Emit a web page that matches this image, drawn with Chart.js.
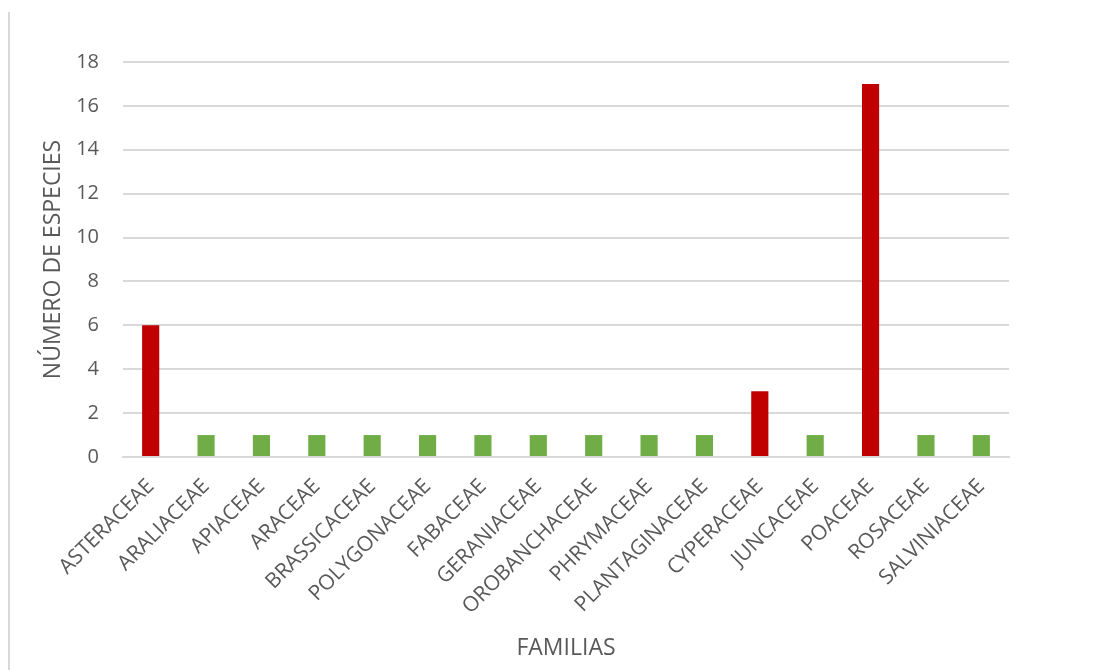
<!DOCTYPE html>
<html>
<head>
<meta charset="utf-8">
<title>Familias</title>
<script src="https://cdn.jsdelivr.net/npm/chart.js@4.4.1/dist/chart.umd.min.js"></script>
<style>
  html, body { margin: 0; padding: 0; background: #fff; }
  #wrap { width: 1095px; height: 670px; position: relative; }
</style>
</head>
<body>
<div id="wrap"><canvas id="chart"></canvas></div>
<script>
// data
const familias = ['ASTERACEAE', 'ARALIACEAE', 'APIACEAE', 'ARACEAE', 'BRASSICACEAE', 'POLYGONACEAE',
  'FABACEAE', 'GERANIACEAE', 'OROBANCHACEAE', 'PHRYMACEAE', 'PLANTAGINACEAE', 'CYPERACEAE',
  'JUNCACEAE', 'POACEAE', 'ROSACEAE', 'SALVINIACEAE'];
const especies = [6, 1, 1, 1, 1, 1, 1, 1, 1, 1, 1, 3, 1, 17, 1, 1];
const yTicks = [0, 2, 4, 6, 8, 10, 12, 14, 16, 18];

const textColor = '#595959';
const gridColor = '#d9d9d9';
const fam = '"Open Sans", sans-serif';

// thin frame line on the left side of the picture
const leftFrame = {
  id: 'leftFrame',
  beforeDraw(chart) {
    const ctx = chart.ctx;
    ctx.save();
    ctx.strokeStyle = gridColor;
    ctx.lineWidth = 2;
    ctx.beginPath();
    ctx.moveTo(9, 12);
    ctx.lineTo(9, 670);
    ctx.stroke();
    ctx.restore();
  }
};

new Chart(document.getElementById('chart'), {
  type: 'bar',
  data: {
    labels: familias,
    datasets: [{
      data: especies,
      backgroundColor: ctx => ctx.raw > 1 ? '#c00000' : '#70ad47',
      barPercentage: 0.62,
      categoryPercentage: 0.5
    }]
  },
  options: {
    responsive: true,
    maintainAspectRatio: false,
    animation: false,
    layout: { padding: { left: 40, right: 86, top: 62, bottom: 0 } },
    plugins: { legend: { display: false }, tooltip: { enabled: false } },
    scales: {
      x: {
        grid: { display: false },
        border: { display: true, color: gridColor, width: 2 },
        ticks: { color: textColor, font: { family: fam, size: 21 }, minRotation: 45, maxRotation: 45, autoSkip: false, padding: 9 },
        title: { display: true, text: 'FAMILIAS', color: textColor, font: { family: fam, size: 23 }, padding: { top: 0, bottom: 8 } },
        afterFit(scale) { scale.height = 213; }
      },
      y: {
        min: 0,
        max: 18,
        afterBuildTicks(scale) { scale.ticks = yTicks.map(v => ({ value: v })); },
        grid: { color: gridColor, lineWidth: 2, drawTicks: false },
        border: { display: false },
        ticks: { color: textColor, font: { family: fam, size: 20 }, padding: 24 },
        title: { display: true, text: 'NÚMERO DE ESPECIES', color: textColor, font: { family: fam, size: 23 }, padding: 0 },
        afterFit(scale) { scale.width = 83; }
      }
    }
  },
  plugins: [leftFrame]
});
</script>
</body>
</html>
